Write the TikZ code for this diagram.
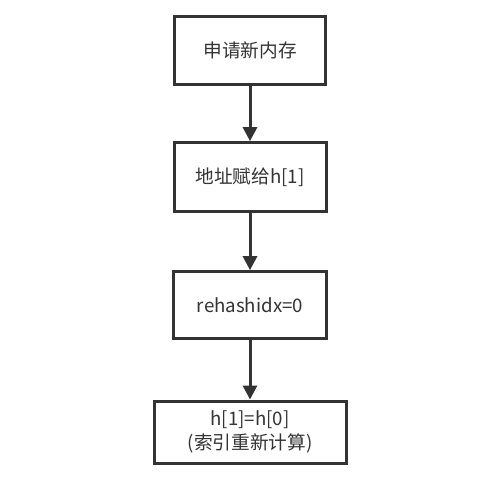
\documentclass[tikz,border=0pt]{standalone}
\usepackage{fontspec}
\setmainfont{Noto Sans CJK SC}
\usepackage{xcolor}
\usepackage{tikz}
\usetikzlibrary{arrows.meta, positioning, calc}
\definecolor{boxline}{HTML}{333333}

\begin{document}
\begin{tikzpicture}[x=0.75pt,y=-0.75pt,>={Triangle[width=10.5pt,length=10.5pt]}]
            \useasboundingbox (0,0) rectangle (485,482);
            \tikzset{stepbox/.style={draw=boxline, line width=2.25pt, text=boxline, align=center,
                    font=\fontsize{14pt}{17.5pt}\selectfont, inner sep=0pt},
                flow/.style={->, draw=boxline, fill=boxline, line width=2.25pt}}

            \node[stepbox, minimum width=113pt, minimum height=51pt] (alloc) at (250,50) {申请新内存};
            \node[stepbox, minimum width=114pt, minimum height=51.5pt] (assign) at (250,177) {地址赋给h[1]};
            \node[stepbox, minimum width=114.5pt, minimum height=50pt] (reset) at (250,305) {rehashidx=0};
            \node[stepbox, minimum width=144pt, minimum height=46.5pt] (swap) at (250,432) {h[1]=h[0]\\(索引重新计算)};

            \draw[flow] (alloc) -- (assign);
            \draw[flow] (assign) -- (reset);
            \draw[flow] (reset) -- (swap);
        \end{tikzpicture}
\end{document}
